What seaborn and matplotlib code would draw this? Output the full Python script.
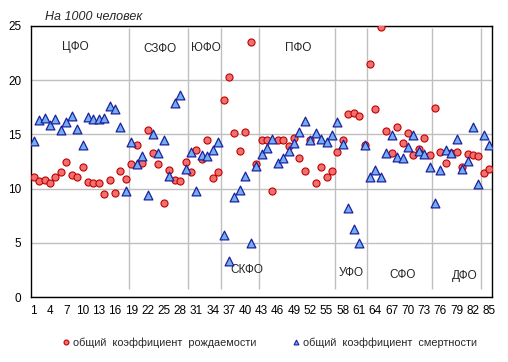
import pandas as pd
import seaborn as sns
import matplotlib.pyplot as plt
from matplotlib.lines import Line2D

# regions 1..85, per 1000 people
births = [11.1, 10.7, 10.75, 10.5, 11.1, 11.55, 12.5, 11.3, 11.1, 12.0,
          10.6, 10.5, 10.5, 9.5, 10.8, 9.6, 11.6, 10.9, 12.3, 14.0,
          12.4, 15.45, 13.3, 12.3, 8.7, 11.7, 10.8, 10.7, 12.5, 11.5,
          13.6, 12.7, 14.5, 11.0, 11.5, 18.2, 20.3, 15.1, 13.5, 15.2,
          23.55, 12.25, 14.5, 14.5, 9.8, 14.45, 14.45, 13.95, 14.65, 12.8,
          11.6, 14.5, 10.5, 12.0, 11.1, 11.65, 13.4, 14.45, 16.9, 17.0,
          16.7, 14.0, 21.5, 17.35, 24.95, 15.35, 13.25, 15.7, 14.25, 15.15,
          13.1, 13.65, 14.7, 13.1, 17.45, 13.4, 12.4, 13.3, 13.4, 12.0,
          13.2, 13.1, 13.0, 11.45, 11.85]
deaths = [14.4, 16.3, 16.5, 15.9, 16.4, 15.4, 16.1, 16.7, 15.5, 14.0,
          16.6, 16.4, 16.4, 16.5, 17.6, 17.3, 15.65, 9.8, 14.3, 12.3,
          13.0, 9.4, 15.0, 13.3, 14.5, 11.2, 17.9, 18.6, 11.8, 13.4,
          9.8, 13.1, 13.0, 13.6, 14.3, 5.7, 3.35, 9.2, 9.85, 11.2,
          5.0, 12.05, 13.2, 13.7, 14.55, 12.35, 12.85, 13.45, 14.2, 15.25,
          16.25, 14.45, 15.1, 14.55, 14.3, 14.9, 16.1, 14.1, 8.25, 6.3,
          4.97, 14.0, 11.1, 11.7, 11.05, 13.3, 14.9, 12.9, 12.8, 13.87,
          14.9, 13.5, 13.2, 11.95, 8.66, 11.7, 13.6, 13.3, 14.6, 11.85,
          12.57, 15.7, 10.4, 14.9, 14.05]
regions = list(range(1, 86))
xticks = list(range(1, 86, 3))

# federal district borders and labels
borders = [18.5, 29.5, 35.5, 42.5, 56.5, 62.5, 74.5, 83.5]
districts = ["ЦФО", "СЗФО", "ЮФО", "ПФО", "СКФО", "УФО", "СФО", "ДФО"]
district_x = [8.6, 24.3, 32.8, 49.8, 40.2, 59.5, 69.0, 80.4]
district_y = [23.1, 22.9, 23.0, 23.0, 2.5, 2.2, 2.0, 1.9]

df = pd.DataFrame({"region": regions, "birth": births, "death": deaths})

sns.set_style("white")
plt.rcParams["font.family"] = ["Liberation Sans", "DejaVu Sans"]

fig = plt.figure(figsize=(5.08, 3.62), dpi=100)
ax = fig.add_axes([31 / 508, 65 / 362, 461 / 508, 271 / 362])

ax.vlines(borders, 0.7, 24.85, color="#BFBFBF", lw=1, zorder=1)

red_face, red_edge = "#F07070", "#C00000"
blue_face, blue_edge = "#6FB0F0", "#1F1F9F"

sns.scatterplot(data=df, x="region", y="birth", ax=ax, marker="o", s=26,
                color=red_face, edgecolor=red_edge, linewidth=0.8, zorder=3)
sns.scatterplot(data=df, x="region", y="death", ax=ax, marker="^", s=40,
                color=blue_face, edgecolor=blue_edge, linewidth=0.9, zorder=4)

ax.set_xlim(0.5, 85.5)
ax.set_ylim(0, 25)
ax.set_xticks(xticks)
ax.set_yticks(range(0, 26, 5))
ax.set_xlabel("")
ax.set_ylabel("")
ax.yaxis.grid(True, color="#BFBFBF", lw=1)
ax.xaxis.grid(False)
ax.set_axisbelow(True)
for sp in ax.spines.values():
    sp.set_color("black")
    sp.set_linewidth(1)
ax.tick_params(axis="both", length=0, labelsize=8.5, colors="black")
ax.tick_params(axis="y", pad=7)
ax.tick_params(axis="x", pad=6)

for name, x, y in zip(districts, district_x, district_y):
    ax.text(x, y, name, ha="center", va="center", fontsize=8.5)

fig.text(45 / 508, 1 - 17 / 362, "На 1000 человек", style="italic",
         fontsize=9, va="center")

handles = [
    Line2D([], [], ls="", marker="o", ms=3.5, mfc=red_face, mec=red_edge, mew=0.8),
    Line2D([], [], ls="", marker="^", ms=3.5, mfc=blue_face, mec=blue_edge, mew=0.8),
]
labels = ["общий  коэффициент  рождаемости", "общий  коэффициент  смертности"]
fig.legend(handles, labels, loc="center", bbox_to_anchor=(0.53, 1 - 343 / 362),
           ncol=2, frameon=False, fontsize=7.8, handlelength=0.8,
           handletextpad=0.3, columnspacing=3.2)

fig.savefig("out.png", dpi=100)
